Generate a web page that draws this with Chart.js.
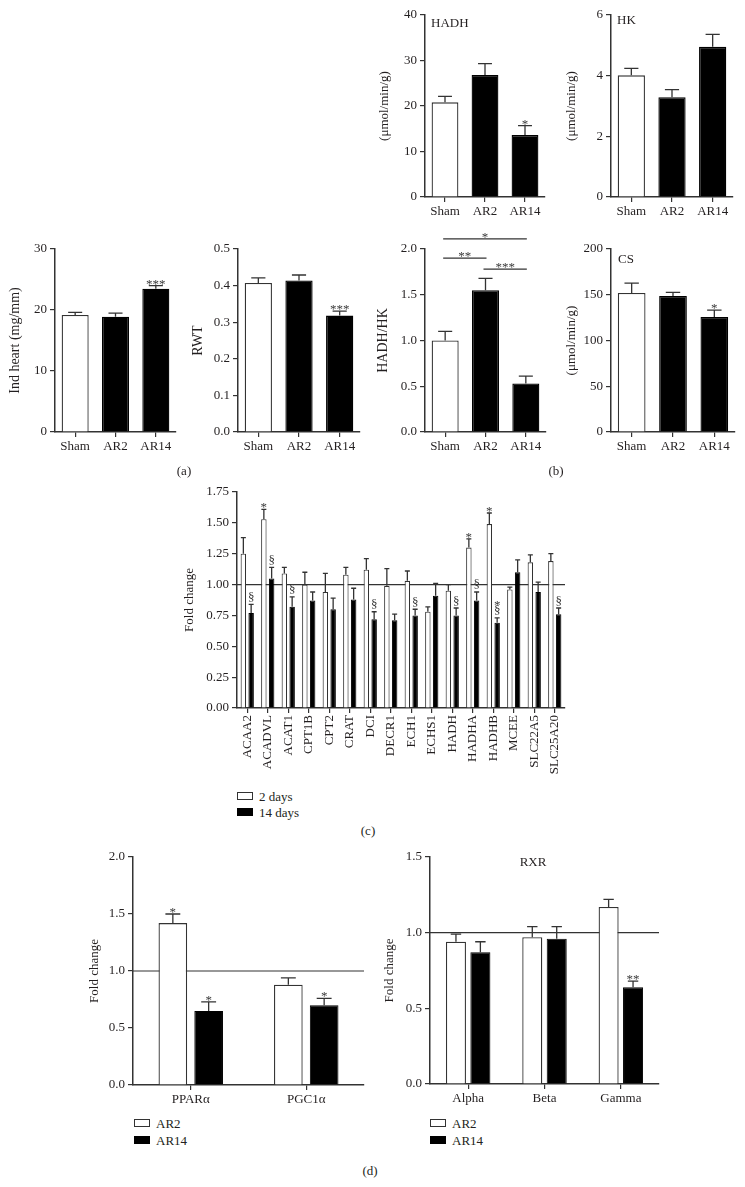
<!DOCTYPE html>
<html>
<head>
<meta charset="utf-8">
<script src="https://cdn.jsdelivr.net/npm/chart.js@4.4.1/dist/chart.umd.min.js"></script>
<style>
body { margin: 0; background: #fff; }
#fig { position: relative; width: 745px; height: 1187px; background: #fff; overflow: hidden;
       font-family: "Liberation Serif", "DejaVu Serif", serif; font-size: 13px; color: #231f20; }
canvas { position: absolute; }
.lbl { position: absolute; line-height: 16px; white-space: nowrap; color: #231f20; transform: translate(-50%, -50%); }
.leg { position: absolute; line-height: 16px; white-space: nowrap; color: #231f20; transform: translateY(-50%); }
.sw { display: inline-block; width: 16px; height: 8px; border: 1px solid #333; box-sizing: border-box;
      margin-right: 6px; vertical-align: 1px; }
.sw.dark { background: #000; border-color: #000; }
</style>
</head>
<body>
<div id="fig">
  <canvas id="cHadh"></canvas>
  <canvas id="cHk"></canvas>
  <canvas id="cInd"></canvas>
  <canvas id="cRwt"></canvas>
  <canvas id="cRatio"></canvas>
  <canvas id="cCs"></canvas>
  <canvas id="cGenes"></canvas>
  <canvas id="cPpar"></canvas>
  <canvas id="cRxr"></canvas>

  <div class="lbl" style="left:184px;top:471px">(a)</div>
  <div class="lbl" style="left:556px;top:471px">(b)</div>
  <div class="leg" style="left:237px;top:797px"><span class="sw"></span>2 days</div>
  <div class="leg" style="left:237px;top:813px"><span class="sw dark"></span>14 days</div>
  <div class="lbl" style="left:368px;top:831px">(c)</div>
  <div class="leg" style="left:134px;top:1124px"><span class="sw"></span>AR2</div>
  <div class="leg" style="left:134px;top:1141px"><span class="sw dark"></span>AR14</div>
  <div class="leg" style="left:430px;top:1124px"><span class="sw"></span>AR2</div>
  <div class="leg" style="left:430px;top:1141px"><span class="sw dark"></span>AR14</div>
  <div class="lbl" style="left:370px;top:1171px">(d)</div>
</div>

<script>
// ---- data ----
const groups = ['Sham', 'AR2', 'AR14'];
const groupFill = ['#ffffff', '#000000', '#000000'];
const groupEdge = ['#333333', '#000000', '#000000'];

const hadhMean = [20.8, 26.8, 13.6];
const hadhErr = [1.3, 2.5, 2.1];
const hadhSig = ['', '', '*'];

const hkMean = [4.01, 3.29, 4.95];
const hkErr = [0.23, 0.25, 0.41];

const indHeartMean = [19.2, 18.9, 23.5];
const indHeartErr = [0.4, 0.6, 0.5];
const indHeartSig = ['', '', '***'];

const rwtMean = [0.407, 0.414, 0.318];
const rwtErr = [0.014, 0.015, 0.012];
const rwtSig = ['', '', '***'];

const ratioMean = [1.00, 1.55, 0.53];
const ratioErr = [0.10, 0.13, 0.08];
// [from group, to group, label, level]
const ratioBrackets = [[0, 2, '*', 2.11], [0, 1, '**', 1.90], [1, 2, '***', 1.78]];

const csMean = [152, 148.6, 125.7];
const csErr = [10.8, 4, 7.6];
const csSig = ['', '', '*'];

const genes = ['ACAA2', 'ACADVL', 'ACAT1', 'CPT1B', 'CPT2', 'CRAT', 'DCI', 'DECR1',
               'ECH1', 'ECHS1', 'HADH', 'HADHA', 'HADHB', 'MCEE', 'SLC22A5', 'SLC25A20'];
const fold2d  = [1.25, 1.53, 1.09, 1.00, 0.94, 1.08, 1.12, 0.99, 1.03, 0.78, 0.95, 1.30, 1.49, 0.96, 1.18, 1.19];
const err2d   = [0.13, 0.08, 0.05, 0.10, 0.15, 0.06, 0.09, 0.14, 0.08, 0.04, 0.05, 0.07, 0.09, 0.02, 0.06, 0.06];
const sig2d   = ['', '*', '', '', '', '', '', '', '', '', '', '*', '*', '', '', ''];
const fold14d = [0.77, 1.05, 0.82, 0.87, 0.80, 0.88, 0.72, 0.71, 0.75, 0.91, 0.75, 0.87, 0.69, 1.10, 0.94, 0.76];
const err14d  = [0.07, 0.09, 0.08, 0.07, 0.09, 0.09, 0.06, 0.05, 0.05, 0.10, 0.06, 0.07, 0.04, 0.10, 0.08, 0.05];
const sig14d  = ['§', '§', '§', '', '', '', '§', '', '§', '', '§', '§', '§|*', '', '', '§'];

const receptors = ['PPARα', 'PGC1α'];
const pparAr2 = [1.42, 0.88];
const pparAr2Err = [0.08, 0.06];
const pparAr2Sig = ['*', ''];
const pparAr14 = [0.65, 0.70];
const pparAr14Err = [0.08, 0.06];
const pparAr14Sig = ['*', '*'];

const rxrTypes = ['Alpha', 'Beta', 'Gamma'];
const rxrAr2 = [0.94, 0.97, 1.17];
const rxrAr2Err = [0.05, 0.07, 0.05];
const rxrAr14 = [0.87, 0.96, 0.64];
const rxrAr14Err = [0.07, 0.08, 0.04];
const rxrAr14Sig = ['', '', '**'];

const baseline = 1.0;

// ---- drawing helpers ----
const FONT = '"Liberation Serif", "DejaVu Serif", serif';
const INK = '#231f20';
const AXIS = '#333333';
Chart.defaults.font.family = FONT;
Chart.defaults.font.size = 13;
Chart.defaults.color = INK;

function drawMarks(ctx, text, x, y) {
  ctx.font = '13px ' + FONT;
  ctx.textAlign = 'center';
  ctx.textBaseline = 'alphabetic';
  ctx.fillStyle = '#3a3a3a';
  let cur = y - 2;
  text.split('|').forEach(function (p) {
    if (p.charAt(0) === '*') { ctx.fillText(p, x, cur + 4); cur -= 7; }
    else { ctx.fillText(p, x, cur - 1.5); cur -= 11; }
  });
}

const refLine = {
  id: 'refLine',
  beforeDatasetsDraw(chart, args, opts) {
    if (opts.value === undefined) return;
    const ctx = chart.ctx, a = chart.chartArea;
    const y = chart.scales.y.getPixelForValue(opts.value);
    ctx.save();
    ctx.strokeStyle = AXIS; ctx.lineWidth = 1.2;
    ctx.beginPath(); ctx.moveTo(a.left, y); ctx.lineTo(a.right, y); ctx.stroke();
    ctx.restore();
  }
};

const errorBars = {
  id: 'errorBars',
  afterDatasetsDraw(chart) {
    const ctx = chart.ctx, ys = chart.scales.y;
    chart.data.datasets.forEach(function (ds, i) {
      if (!ds.errors) return;
      chart.getDatasetMeta(i).data.forEach(function (bar, j) {
        const top = ys.getPixelForValue(ds.data[j] + ds.errors[j]);
        const hw = Math.max(bar.width * 0.26, 2.5);
        ctx.save();
        ctx.strokeStyle = AXIS; ctx.lineWidth = 1.3;
        ctx.beginPath();
        ctx.moveTo(bar.x, bar.y); ctx.lineTo(bar.x, top);
        ctx.moveTo(bar.x - hw, top); ctx.lineTo(bar.x + hw, top);
        ctx.stroke();
        if (ds.marks && ds.marks[j]) drawMarks(ctx, ds.marks[j], bar.x, top);
        ctx.restore();
      });
    });
  }
};

const brackets = {
  id: 'brackets',
  afterDatasetsDraw(chart, args, opts) {
    if (!opts.items) return;
    const ctx = chart.ctx, xs = chart.scales.x, ys = chart.scales.y;
    opts.items.forEach(function (it) {
      const x1 = xs.getPixelForValue(it[0]) - 2, x2 = xs.getPixelForValue(it[1]) + 1;
      const y = ys.getPixelForValue(it[3]);
      ctx.save();
      ctx.strokeStyle = AXIS; ctx.lineWidth = 1.2;
      ctx.beginPath(); ctx.moveTo(x1, y); ctx.lineTo(x2, y); ctx.stroke();
      drawMarks(ctx, it[2], (x1 + x2) / 2, y);
      ctx.restore();
    });
  }
};

const panelText = {
  id: 'panelText',
  afterDraw(chart, args, opts) {
    if (!opts.text) return;
    const ctx = chart.ctx, a = chart.chartArea;
    ctx.save();
    ctx.font = '13px ' + FONT; ctx.fillStyle = INK;
    ctx.textBaseline = 'middle'; ctx.textAlign = opts.align || 'left';
    ctx.fillText(opts.text, a.left + opts.dx, a.top + opts.dy);
    ctx.restore();
  }
};

// area = plot rectangle on the page, m = room around it for axes
function buildChart(id, area, m, titleX, labels, datasets, y, extra) {
  extra = extra || {};
  const c = document.getElementById(id);
  c.width = area.r - area.l + m.l + m.r;
  c.height = area.b - area.t + m.t + m.b;
  c.style.left = (area.l - m.l) + 'px';
  c.style.top = (area.t - m.t) + 'px';
  const rot = extra.rot || 0;
  const tSize = y.titleSize || 13;
  return new Chart(c, {
    type: 'bar',
    data: { labels: labels, datasets: datasets },
    plugins: [refLine, errorBars, brackets, panelText],
    options: {
      responsive: false,
      animation: false,
      devicePixelRatio: 1,
      layout: { padding: { left: 0, right: m.r, top: m.t, bottom: 0 } },
      plugins: Object.assign({ legend: { display: false }, tooltip: { enabled: false } }, extra.plugins || {}),
      scales: {
        x: {
          grid: { drawOnChartArea: false, offset: false, color: AXIS, lineWidth: 1.2, tickLength: 5 },
          border: { color: AXIS, width: 1.5 },
          ticks: { padding: 2, autoSkip: false, maxRotation: rot, minRotation: rot, color: INK },
          afterFit: function (s) { s.height = m.b; }
        },
        y: {
          min: 0, max: y.max,
          grid: { drawOnChartArea: false, color: AXIS, lineWidth: 1.2, tickLength: 5 },
          border: { color: AXIS, width: 1.5 },
          ticks: { stepSize: y.step, padding: 3, color: INK, callback: function (v) { return v.toFixed(y.dec); } },
          title: { display: true, text: y.title, color: INK, font: { size: tSize },
                   padding: { top: titleX - (area.l - m.l) - tSize * 0.6, bottom: 0 } },
          afterFit: function (s) { s.width = m.l; }
        }
      }
    }
  });
}

function groupSet(mean, err, sig) {
  return [{ data: mean, errors: err, marks: sig, backgroundColor: groupFill, borderColor: groupEdge,
            borderWidth: 1.3, barPercentage: 0.67, categoryPercentage: 1.0 }];
}

// ---- (b) top row ----
buildChart('cHadh', { l: 425, t: 15, r: 545, b: 197 }, { l: 62, t: 12, r: 10, b: 26 }, 385,
  groups, groupSet(hadhMean, hadhErr, hadhSig),
  { max: 40, step: 10, dec: 0, title: '(μmol/min/g)' },
  { plugins: { panelText: { text: 'HADH', dx: 6, dy: 9 } } });

buildChart('cHk', { l: 611, t: 15, r: 733, b: 197 }, { l: 62, t: 12, r: 10, b: 26 }, 572,
  groups, groupSet(hkMean, hkErr, null),
  { max: 6, step: 2, dec: 0, title: '(μmol/min/g)' },
  { plugins: { panelText: { text: 'HK', dx: 6, dy: 6 } } });

// ---- (a) ----
buildChart('cInd', { l: 55, t: 249, r: 176, b: 432 }, { l: 50, t: 12, r: 10, b: 26 }, 15,
  groups, groupSet(indHeartMean, indHeartErr, indHeartSig),
  { max: 30, step: 10, dec: 0, title: 'Ind heart (mg/mm)', titleSize: 14 });

buildChart('cRwt', { l: 238, t: 249, r: 360, b: 432 }, { l: 50, t: 12, r: 10, b: 26 }, 198,
  groups, groupSet(rwtMean, rwtErr, rwtSig),
  { max: 0.5, step: 0.1, dec: 1, title: 'RWT', titleSize: 14 });

// ---- (b) second row ----
buildChart('cRatio', { l: 425, t: 249, r: 546, b: 432 }, { l: 62, t: 30, r: 10, b: 26 }, 383,
  groups, groupSet(ratioMean, ratioErr, null),
  { max: 2, step: 0.5, dec: 1, title: 'HADH/HK', titleSize: 14 },
  { plugins: { brackets: { items: ratioBrackets } } });

buildChart('cCs', { l: 611, t: 249, r: 735, b: 432 }, { l: 62, t: 12, r: 8, b: 26 }, 572,
  groups, groupSet(csMean, csErr, csSig),
  { max: 200, step: 50, dec: 0, title: '(μmol/min/g)' },
  { plugins: { panelText: { text: 'CS', dx: 7, dy: 11 } } });

// ---- (c) ----
buildChart('cGenes', { l: 237, t: 492, r: 565, b: 708 }, { l: 55, t: 14, r: 8, b: 72 }, 190,
  genes, [
    { data: fold2d, errors: err2d, marks: sig2d, backgroundColor: '#fff', borderColor: AXIS,
      borderWidth: 1.1, barPercentage: 0.7, categoryPercentage: 0.76 },
    { data: fold14d, errors: err14d, marks: sig14d, backgroundColor: '#000', borderColor: '#000',
      borderWidth: 1, barPercentage: 0.7, categoryPercentage: 0.76 }
  ],
  { max: 1.75, step: 0.25, dec: 2, title: 'Fold change' },
  { rot: 90, plugins: { refLine: { value: baseline } } });

// ---- (d) ----
buildChart('cPpar', { l: 133, t: 857, r: 364, b: 1085 }, { l: 48, t: 12, r: 8, b: 26 }, 95,
  receptors, [
    { data: pparAr2, errors: pparAr2Err, marks: pparAr2Sig, backgroundColor: '#fff', borderColor: AXIS,
      borderWidth: 1.3, barPercentage: 0.8, categoryPercentage: 0.62 },
    { data: pparAr14, errors: pparAr14Err, marks: pparAr14Sig, backgroundColor: '#000', borderColor: '#000',
      borderWidth: 1, barPercentage: 0.8, categoryPercentage: 0.62 }
  ],
  { max: 2, step: 0.5, dec: 1, title: 'Fold change' },
  { plugins: { refLine: { value: baseline } } });

buildChart('cRxr', { l: 430, t: 857, r: 659, b: 1084 }, { l: 50, t: 12, r: 8, b: 26 }, 390,
  rxrTypes, [
    { data: rxrAr2, errors: rxrAr2Err, backgroundColor: '#fff', borderColor: AXIS,
      borderWidth: 1.3, barPercentage: 0.82, categoryPercentage: 0.64 },
    { data: rxrAr14, errors: rxrAr14Err, marks: rxrAr14Sig, backgroundColor: '#000', borderColor: '#000',
      borderWidth: 1, barPercentage: 0.82, categoryPercentage: 0.64 }
  ],
  { max: 1.5, step: 0.5, dec: 1, title: 'Fold change' },
  { plugins: { refLine: { value: baseline }, panelText: { text: 'RXR', dx: 103, dy: 6, align: 'center' } } });
</script>
</body>
</html>
